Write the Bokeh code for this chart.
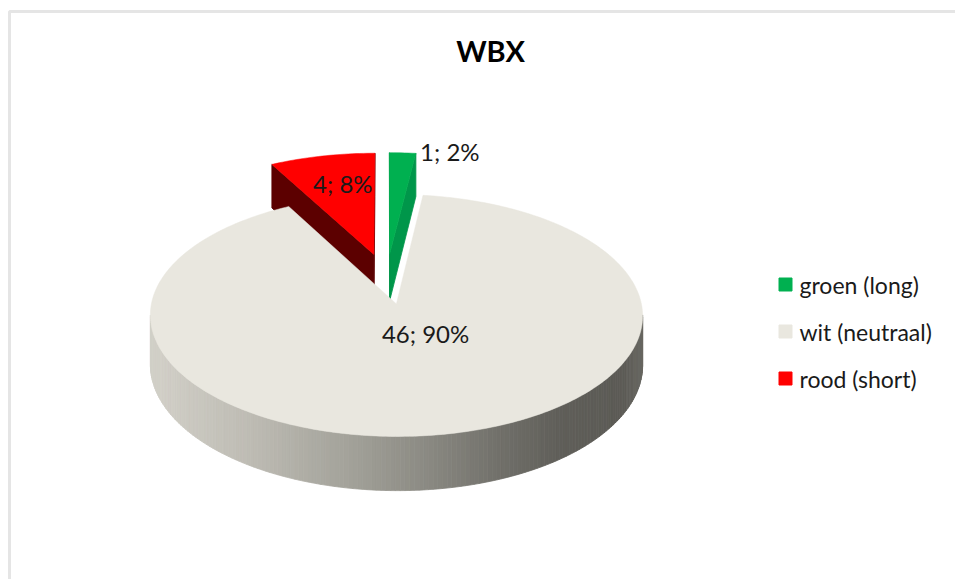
import math
import numpy as np
from bokeh.plotting import figure
from bokeh.models import Range1d, BoxAnnotation
from bokeh.core.properties import value
from bokeh.embed import file_html
from bokeh.resources import INLINE

# ---------------- data ----------------
categories = ["groen (long)", "wit (neutraal)", "rood (short)"]
counts = [1, 46, 4]
chart_title = "WBX"

# ---------------- style ----------------
top_colors = ["#00b050", "#e9e7df", "#ff0000"]
wall_colors = ["#00964a", None, "#5c0000"]
legend_colors = ["#00b050", "#e9e7df", "#ff0000"]
FONT = "Lato"

# projection parameters (pseudo-perspective 3D pie)
CX, CY, A, B, P, H, EXPL = 386.0, 278.0, 240.0, 115.0, 0.094, 48.0, 0.22
CAMY = -1.0 / P

grad_stops_x = [150, 250, 350, 420, 500, 560, 620, 645]
grad_stops_c = ["#d3d1c9", "#bebcb4", "#a3a29a", "#8d8c85", "#71706a", "#605f5a", "#5c5b56", "#6a6963"]


def hex2rgb(h):
    h = h.lstrip("#")
    return [int(h[i:i + 2], 16) for i in (0, 2, 4)]


def gradient(sx):
    rgbs = np.array([hex2rgb(c) for c in grad_stops_c], dtype=float)
    r = np.interp(sx, grad_stops_x, rgbs[:, 0])
    g = np.interp(sx, grad_stops_x, rgbs[:, 1])
    b = np.interp(sx, grad_stops_x, rgbs[:, 2])
    return "#%02x%02x%02x" % (int(r), int(g), int(b))


def proj(X, Y, d=0.0):
    w = 1.0 + P * Y
    return CX + A * X / w, CY - B * Y / w + H * d / w


total = sum(counts)
fracs = [c / total for c in counts]

slices = []
t0 = 90.0
for i, f in enumerate(fracs):
    t1 = t0 - f * 360.0
    m = math.radians((t0 + t1) / 2.0)
    slices.append(dict(i=i, t0=math.radians(t0), t1=math.radians(t1), m=m,
                       ox=EXPL * math.cos(m), oy=EXPL * math.sin(m)))
    t0 = t1

p = figure(width=955, height=579, x_range=Range1d(0, 955), y_range=Range1d(579, 0),
           output_backend="svg", toolbar_location=None, min_border=0)
p.axis.visible = False
p.grid.visible = False
p.outline_line_color = None
p.background_fill_color = "white"
p.border_fill_color = "white"

p.add_layout(BoxAnnotation(left=9, right=1200, top=11, bottom=1200, fill_alpha=0,
                           line_color="#a8a8a8", line_width=3))


def visible(nx, ny, px, py):
    return nx * (0 - px) + ny * (CAMY - py) > 0


order = sorted(slices, key=lambda s: -math.sin(s["m"]))
for s in order:
    i, ox, oy = s["i"], s["ox"], s["oy"]
    n = max(int(abs(math.degrees(s["t0"] - s["t1"]))), 2)
    angs = np.linspace(s["t0"], s["t1"], n + 1)
    walls = []
    # outer arc wall
    for k in range(n):
        a, b = angs[k], angs[k + 1]
        mm = (a + b) / 2
        px, py = math.cos(mm) + ox, math.sin(mm) + oy
        if not visible(math.cos(mm), math.sin(mm), px, py):
            continue
        pa0 = proj(math.cos(a) + ox, math.sin(a) + oy, 0)
        pb0 = proj(math.cos(b) + ox, math.sin(b) + oy, 0)
        pb1 = proj(math.cos(b) + ox, math.sin(b) + oy, 1)
        pa1 = proj(math.cos(a) + ox, math.sin(a) + oy, 1)
        col = wall_colors[i] if wall_colors[i] else gradient((pa0[0] + pb0[0]) / 2)
        walls.append((py, [pa0[0], pb0[0], pb1[0], pa1[0]], [pa0[1], pb0[1], pb1[1], pa1[1]], col))
    # radial walls
    for t, nang in ((s["t0"], s["t0"] + math.pi / 2), (s["t1"], s["t1"] - math.pi / 2)):
        px, py = 0.5 * math.cos(t) + ox, 0.5 * math.sin(t) + oy
        if not visible(math.cos(nang), math.sin(nang), px, py):
            continue
        c0 = proj(ox, oy, 0)
        o0 = proj(math.cos(t) + ox, math.sin(t) + oy, 0)
        o1 = proj(math.cos(t) + ox, math.sin(t) + oy, 1)
        c1 = proj(ox, oy, 1)
        col = wall_colors[i] if wall_colors[i] else gradient(o0[0])
        walls.append((py, [c0[0], o0[0], o1[0], c1[0]], [c0[1], o0[1], o1[1], c1[1]], col))
    walls.sort(key=lambda w: -w[0])
    if walls:
        p.patches([w[1] for w in walls], [w[2] for w in walls],
                  fill_color=[w[3] for w in walls], line_color=[w[3] for w in walls],
                  line_width=0.8)
    # top face
    xs, ys = [], []
    c = proj(ox, oy, 0)
    xs.append(c[0]); ys.append(c[1])
    for a in angs:
        q = proj(math.cos(a) + ox, math.sin(a) + oy, 0)
        xs.append(q[0]); ys.append(q[1])
    p.patch(xs, ys, fill_color=top_colors[i], line_color=top_colors[i], line_width=0.5)

# data labels
label_r = [1.12, 0.3, 0.7]
label_dx = [16, 15, 6]
label_dy = [10, -7, 0]
label_align = ["left", "center", "center"]
for s in slices:
    i = s["i"]
    X = label_r[i] * math.cos(s["m"]) + s["ox"]
    Y = label_r[i] * math.sin(s["m"]) + s["oy"]
    lx, ly = proj(X, Y, 0)
    txt = "%d; %d%%" % (counts[i], round(100.0 * counts[i] / total))
    p.text(x=[lx + label_dx[i]], y=[ly + label_dy[i]], text=[txt],
           text_font=value(FONT), text_font_size="24px", text_color="#1a1a1a",
           text_align=label_align[i], text_baseline="middle")

# title
p.text(x=[490], y=[50], text=[chart_title], text_font=value(FONT), text_font_size="29px",
       text_font_style="bold", text_color="#000000", text_align="center", text_baseline="middle")

# legend
LX, LY, LSP = 785, 284, 47
ly = [LY + k * LSP for k in range(len(categories))]
p.scatter(x=[LX] * len(categories), y=ly, marker="square", size=13,
          fill_color=legend_colors, line_color=legend_colors)
p.text(x=[LX + 14] * len(categories), y=ly, text=categories, text_font=value(FONT),
       text_font_size="23px", text_color="#1a1a1a", text_align="left", text_baseline="middle")

open("out.html", "w").write(file_html(p, INLINE))
